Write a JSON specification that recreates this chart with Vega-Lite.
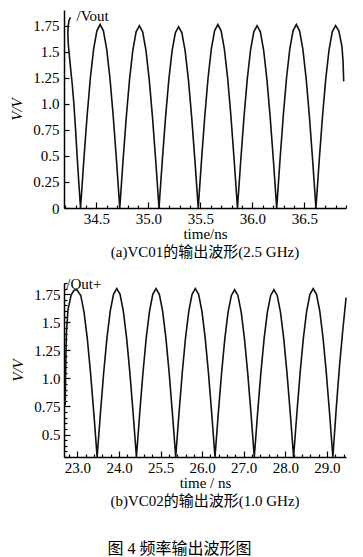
{
  "$schema": "https://vega.github.io/schema/vega-lite/v6.json",
  "background": "white",
  "padding": {"left": 9, "top": 8, "right": 5, "bottom": 5},
  "spacing": 16,
  "title": {"text": "图 4   频率输出波形图", "orient": "bottom", "anchor": "middle", "fontSize": 16, "font": "Liberation Serif, Noto Sans CJK SC", "fontWeight": "normal", "color": "#000", "offset": 32},
  "config": {
    "view": {"stroke": null},
    "font": "Liberation Serif",
    "axis": {"grid": false, "domainColor": "#000", "domainWidth": 1.5, "tickColor": "#000", "tickWidth": 1.2, "labelFont": "Liberation Serif", "labelFontSize": 15, "labelColor": "#000", "titleFont": "Liberation Serif", "titleFontSize": 15, "titleFontWeight": "normal", "titleColor": "#000", "labelOverlap": false, "tickCount": 200},
    "title": {"font": "Liberation Serif, Noto Sans CJK SC", "fontSize": 15, "fontWeight": "normal", "color": "#000"}
  },
  "datasets": {
    "top": [
      {"t":34.2505,"v":1.83},{"t":34.236,"v":1.80},{"t":34.228,"v":1.746},{"t":34.225,"v":1.67},{"t":34.228,"v":1.59},{"t":34.235,"v":1.51},{"t":34.2505,"v":1.35},{"t":34.267,"v":1.19},{"t":34.283,"v":1.0},{"t":34.3,"v":0.74},{"t":34.316,"v":0.47},{"t":34.332,"v":0.22},{"t":34.347,"v":0},
      {"t":34.3784,"v":0.456},{"t":34.4099,"v":0.88},{"t":34.4413,"v":1.245},{"t":34.4728,"v":1.524},{"t":34.5042,"v":1.7},{"t":34.5357,"v":1.76},{"t":34.5671,"v":1.7},{"t":34.5985,"v":1.524},{"t":34.63,"v":1.245},{"t":34.6614,"v":0.88},{"t":34.6929,"v":0.456},{"t":34.7243,"v":0},
      {"t":34.7557,"v":0.453},{"t":34.7872,"v":0.875},{"t":34.8186,"v":1.237},{"t":34.8501,"v":1.516},{"t":34.8815,"v":1.69},{"t":34.913,"v":1.75},{"t":34.9444,"v":1.69},{"t":34.9758,"v":1.516},{"t":35.0073,"v":1.237},{"t":35.0387,"v":0.875},{"t":35.0702,"v":0.453},{"t":35.1016,"v":0},
      {"t":35.133,"v":0.45},{"t":35.1645,"v":0.87},{"t":35.1959,"v":1.23},{"t":35.2274,"v":1.507},{"t":35.2588,"v":1.681},{"t":35.2903,"v":1.74},{"t":35.3217,"v":1.681},{"t":35.3531,"v":1.507},{"t":35.3846,"v":1.23},{"t":35.416,"v":0.87},{"t":35.4475,"v":0.45},{"t":35.4789,"v":0},
      {"t":35.5103,"v":0.456},{"t":35.5418,"v":0.88},{"t":35.5732,"v":1.245},{"t":35.6047,"v":1.524},{"t":35.6361,"v":1.7},{"t":35.6676,"v":1.76},{"t":35.699,"v":1.7},{"t":35.7304,"v":1.524},{"t":35.7619,"v":1.245},{"t":35.7933,"v":0.88},{"t":35.8248,"v":0.456},{"t":35.8562,"v":0},
      {"t":35.8876,"v":0.453},{"t":35.9191,"v":0.875},{"t":35.9505,"v":1.237},{"t":35.982,"v":1.516},{"t":36.0134,"v":1.69},{"t":36.0449,"v":1.75},{"t":36.0763,"v":1.69},{"t":36.1077,"v":1.516},{"t":36.1392,"v":1.237},{"t":36.1706,"v":0.875},{"t":36.2021,"v":0.453},{"t":36.2335,"v":0},
      {"t":36.2649,"v":0.456},{"t":36.2964,"v":0.88},{"t":36.3278,"v":1.245},{"t":36.3593,"v":1.524},{"t":36.3907,"v":1.7},{"t":36.4222,"v":1.76},{"t":36.4536,"v":1.7},{"t":36.485,"v":1.524},{"t":36.5165,"v":1.245},{"t":36.5479,"v":0.88},{"t":36.5794,"v":0.456},{"t":36.6108,"v":0},
      {"t":36.6422,"v":0.453},{"t":36.6737,"v":0.875},{"t":36.7051,"v":1.237},{"t":36.7366,"v":1.516},{"t":36.768,"v":1.69},{"t":36.7995,"v":1.75},{"t":36.8309,"v":1.7},{"t":36.861,"v":1.55},{"t":36.872,"v":1.4},{"t":36.878,"v":1.215}
    ],
    "bot": [
      {"t":22.705,"v":0.76},{"t":22.718,"v":1.1},{"t":22.735,"v":1.4},{"t":22.772,"v":1.61},{"t":22.85,"v":1.745},{"t":22.92,"v":1.785},{"t":22.985,"v":1.79},{"t":23.0803,"v":1.739},{"t":23.159,"v":1.59},{"t":23.2378,"v":1.354},{"t":23.3165,"v":1.045},{"t":23.3953,"v":0.686},{"t":23.474,"v":0.3},
      {"t":23.5528,"v":0.688},{"t":23.6315,"v":1.05},{"t":23.7103,"v":1.361},{"t":23.789,"v":1.599},{"t":23.8678,"v":1.749},{"t":23.9465,"v":1.8},{"t":24.0253,"v":1.749},{"t":24.104,"v":1.599},{"t":24.1828,"v":1.361},{"t":24.2615,"v":1.05},{"t":24.3403,"v":0.688},{"t":24.419,"v":0.3},
      {"t":24.4978,"v":0.688},{"t":24.5765,"v":1.05},{"t":24.6553,"v":1.361},{"t":24.734,"v":1.599},{"t":24.8128,"v":1.749},{"t":24.8915,"v":1.8},{"t":24.9703,"v":1.749},{"t":25.049,"v":1.599},{"t":25.1278,"v":1.361},{"t":25.2065,"v":1.05},{"t":25.2853,"v":0.688},{"t":25.364,"v":0.3},
      {"t":25.4428,"v":0.688},{"t":25.5215,"v":1.05},{"t":25.6003,"v":1.361},{"t":25.679,"v":1.599},{"t":25.7578,"v":1.749},{"t":25.8365,"v":1.8},{"t":25.9153,"v":1.749},{"t":25.994,"v":1.599},{"t":26.0728,"v":1.361},{"t":26.1515,"v":1.05},{"t":26.2303,"v":0.688},{"t":26.309,"v":0.3},
      {"t":26.3878,"v":0.686},{"t":26.4665,"v":1.045},{"t":26.5453,"v":1.354},{"t":26.624,"v":1.59},{"t":26.7028,"v":1.739},{"t":26.7815,"v":1.79},{"t":26.8603,"v":1.739},{"t":26.939,"v":1.59},{"t":27.0178,"v":1.354},{"t":27.0965,"v":1.045},{"t":27.1753,"v":0.686},{"t":27.254,"v":0.3},
      {"t":27.3328,"v":0.686},{"t":27.4115,"v":1.045},{"t":27.4903,"v":1.354},{"t":27.569,"v":1.59},{"t":27.6478,"v":1.739},{"t":27.7265,"v":1.79},{"t":27.8053,"v":1.739},{"t":27.884,"v":1.59},{"t":27.9628,"v":1.354},{"t":28.0415,"v":1.045},{"t":28.1203,"v":0.686},{"t":28.199,"v":0.3},
      {"t":28.2778,"v":0.688},{"t":28.3565,"v":1.05},{"t":28.4353,"v":1.361},{"t":28.514,"v":1.599},{"t":28.5928,"v":1.749},{"t":28.6715,"v":1.8},{"t":28.7503,"v":1.749},{"t":28.829,"v":1.599},{"t":28.9078,"v":1.361},{"t":28.9865,"v":1.05},{"t":29.0653,"v":0.688},{"t":29.144,"v":0.3},
      {"t":29.2228,"v":0.72},{"t":29.3015,"v":1.1},{"t":29.38,"v":1.42},{"t":29.462,"v":1.72}
    ]
  },
  "vconcat": [
    {
      "width": 282, "height": 198,
      "title": {"text": "(a)VC01的输出波形(2.5 GHz)", "orient": "bottom", "anchor": "middle", "offset": 4},
      "layer": [
        {
          "data": {"name": "top"},
          "mark": {"type": "line", "color": "#111", "strokeWidth": 1.6},
          "encoding": {
            "x": {"field": "t", "type": "quantitative", "scale": {"domain": [34.188, 36.9], "nice": false, "zero": false},
              "axis": {"title": "time/ns", "labelOverlap": false, "tickCount": 200, "values": [34.2,34.3,34.4,34.5,34.6,34.7,34.8,34.9,35.0,35.1,35.2,35.3,35.4,35.5,35.6,35.7,35.8,35.9,36.0,36.1,36.2,36.3,36.4,36.5,36.6,36.7,36.8,36.9],
                "labelExpr": "abs(datum.value*2-round(datum.value*2))<0.001 ? format(datum.value,'.1f') : ''",
                "tickSize": {"condition": {"test": "abs(datum.value*2-round(datum.value*2))<0.001", "value": -6}, "value": -3},
                "labelPadding": 9, "titlePadding": -3}},
            "y": {"field": "v", "type": "quantitative", "scale": {"domain": [0, 1.9], "nice": false, "zero": false},
              "axis": {"title": "V/V", "labelOverlap": false, "tickCount": 200, "titleFontStyle": "italic", "values": [0,0.25,0.5,0.75,1,1.25,1.5,1.75],
                "labelExpr": "datum.value==1 ? '1.0' : format(datum.value,'~g')",
                "tickSize": -5, "labelPadding": 10, "titlePadding": 8}},
            "order": {"value": null}
          }
        },
        {
          "data": {"values": [{"t": 34.308, "v": 1.846, "s": "/Vout"}]},
          "mark": {"type": "text", "align": "left", "baseline": "middle", "fontSize": 15, "font": "Liberation Serif", "color": "#000"},
          "encoding": {
            "x": {"field": "t", "type": "quantitative"},
            "y": {"field": "v", "type": "quantitative"},
            "text": {"field": "s"}
          }
        }
      ]
    },
    {
      "width": 282, "height": 174,
      "title": {"text": "(b)VC02的输出波形(1.0 GHz)", "orient": "bottom", "anchor": "middle", "offset": 4},
      "layer": [
        {
          "data": {"name": "bot"},
          "mark": {"type": "line", "color": "#111", "strokeWidth": 1.6},
          "encoding": {
            "x": {"field": "t", "type": "quantitative", "scale": {"domain": [22.677, 29.46], "nice": false, "zero": false},
              "axis": {"title": "time / ns", "labelOverlap": false, "tickCount": 200, "values": [22.8,23.0,23.2,23.4,23.6,23.8,24.0,24.2,24.4,24.6,24.8,25.0,25.2,25.4,25.6,25.8,26.0,26.2,26.4,26.6,26.8,27.0,27.2,27.4,27.6,27.8,28.0,28.2,28.4,28.6,28.8,29.0,29.2,29.4],
                "labelExpr": "abs(datum.value-round(datum.value))<0.001 ? (round(datum.value)==25 ? '25.5' : format(datum.value,'.1f')) : ''",
                "tickSize": {"condition": {"test": "abs(datum.value-round(datum.value))<0.001", "value": -6}, "value": -3},
                "labelPadding": 9, "titlePadding": -3}},
            "y": {"field": "v", "type": "quantitative", "scale": {"domain": [0.3, 1.85], "nice": false, "zero": false},
              "axis": {"title": "V/V", "labelOverlap": false, "tickCount": 200, "titleFontStyle": "italic", "values": [0.3,0.35,0.4,0.45,0.5,0.55,0.6,0.65,0.7,0.75,0.8,0.85,0.9,0.95,1.0,1.05,1.1,1.15,1.2,1.25,1.3,1.35,1.4,1.45,1.5,1.55,1.6,1.65,1.7,1.75,1.8,1.85],
                "labelExpr": "abs(datum.value*4-round(datum.value*4))<0.001 && datum.value>0.4 ? (datum.value==1 ? '1.0' : format(datum.value,'~g')) : ''",
                "tickSize": {"condition": {"test": "abs(datum.value*4-round(datum.value*4))<0.001", "value": -6}, "value": -3},
                "labelPadding": 10, "titlePadding": 8}},
            "order": {"value": null}
          }
        },
        {
          "data": {"values": [{"t": 22.732, "v": 1.839, "s": "/Out+"}]},
          "mark": {"type": "text", "align": "left", "baseline": "middle", "fontSize": 15, "font": "Liberation Serif", "color": "#000"},
          "encoding": {
            "x": {"field": "t", "type": "quantitative"},
            "y": {"field": "v", "type": "quantitative"},
            "text": {"field": "s"}
          }
        }
      ]
    }
  ]
}
